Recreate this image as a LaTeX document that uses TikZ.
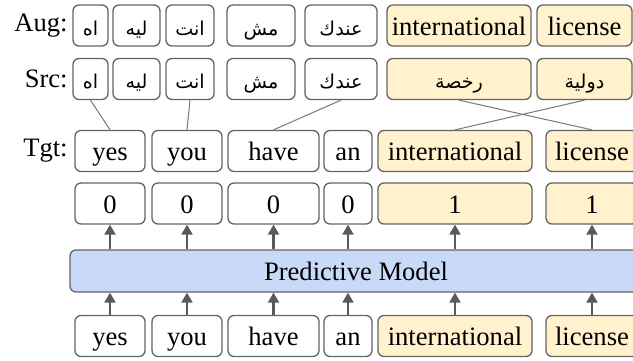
\documentclass[tikz,border=0pt]{standalone}
\usepackage{fontspec}
\setmainfont{Liberation Serif}
\newfontfamily\arabicfont[Script=Arabic,Scale=0.72]{DejaVu Sans}
\TeXXeTstate=1
\usetikzlibrary{arrows.meta}
\definecolor{boxline}{RGB}{100,100,100}
\definecolor{linkgray}{RGB}{120,120,120}
\definecolor{arrowgray}{RGB}{90,90,90}
\definecolor{hilite}{RGB}{255,242,204}
\definecolor{modelblue}{RGB}{201,218,248}
% arabic words run right to left
\newcommand{\arw}[1]{{\arabicfont\beginR #1\endR}}

\begin{document}
\begin{tikzpicture}[x=0.5pt,y=-0.5pt,inner sep=0pt,font=\fontsize{13.3}{16}\selectfont]
\tikzstyle{word}=[rectangle, rounded corners=3pt, draw=boxline, line width=0.65pt, minimum height=20.5pt, text height=10pt, text depth=0.5pt, fill=white]
\tikzstyle{hword}=[word, fill=hilite]
\tikzstyle{link}=[draw=linkgray, line width=0.5pt]
\tikzstyle{feed}=[-{Triangle[width=5.5pt,length=5pt]}, draw=arrowgray, line width=1.1pt]
\path[use as bounding box, clip] (0,0) rectangle (633,360);
% row labels
\node[anchor=east] (augl) at (68,25.5) {Aug:};
\node[anchor=east] (srcl) at (68,79) {Src:};
\node[anchor=east] (tgtl) at (68,151) {Tgt:};
% augmented source
\node[word,minimum width=17.5pt] (aug1) at (90.5,25.5) {\arw{اه}};
\node[word,minimum width=23.5pt] (aug2) at (136.5,25.5) {\arw{ليه}};
\node[word,minimum width=24pt] (aug3) at (190,25.5) {\arw{انت}};
\node[word,minimum width=34pt] (aug4) at (261,25.5) {\arw{مش}};
\node[word,minimum width=36pt] (aug5) at (341,25.5) {\arw{عندك}};
\node[hword,minimum width=72pt] (aug6) at (459,25.5) {international};
\node[hword,minimum width=47.5pt] (aug7) at (584.5,25.5) {license};
% source
\node[word,minimum width=17.5pt] (src1) at (90.5,79) {\arw{اه}};
\node[word,minimum width=23.5pt] (src2) at (136.5,79) {\arw{ليه}};
\node[word,minimum width=24pt] (src3) at (190,79) {\arw{انت}};
\node[word,minimum width=34pt] (src4) at (261,79) {\arw{مش}};
\node[word,minimum width=36pt] (src5) at (341,79) {\arw{عندك}};
\node[hword,minimum width=72pt] (src6) at (459,79) {\arw{رخصة}};
\node[hword,minimum width=47.5pt] (src7) at (584.5,79) {\arw{دولية}};
% target
\node[word,minimum width=35pt] (tgt1) at (110,151) {yes};
\node[word,minimum width=35pt] (tgt2) at (187,151) {you};
\node[word,minimum width=45.5pt] (tgt3) at (273.5,151) {have};
\node[word,minimum width=24pt] (tgt4) at (348,151) {an};
\node[hword,minimum width=77pt] (tgt5) at (455,151) {international};
\node[hword,minimum width=46pt] (tgt6) at (592,151) {license};
% tags
\node[word,minimum width=35pt] (lab1) at (110,203.5) {0};
\node[word,minimum width=35pt] (lab2) at (187,203.5) {0};
\node[word,minimum width=45.5pt] (lab3) at (273.5,203.5) {0};
\node[word,minimum width=24pt] (lab4) at (348,203.5) {0};
\node[hword,minimum width=77pt] (lab5) at (455,203.5) {1};
\node[hword,minimum width=46pt] (lab6) at (592,203.5) {1};
% model
\node[word,fill=modelblue,minimum width=286pt,minimum height=21pt] (model) at (356,271) {Predictive Model};
% input
\node[word,minimum width=35pt] (inp1) at (110,336) {yes};
\node[word,minimum width=35pt] (inp2) at (187,336) {you};
\node[word,minimum width=45.5pt] (inp3) at (273.5,336) {have};
\node[word,minimum width=24pt] (inp4) at (348,336) {an};
\node[hword,minimum width=77pt] (inp5) at (455,336) {international};
\node[hword,minimum width=46pt] (inp6) at (592,336) {license};
% alignment
\draw[link] (src1.south) -- (tgt1.north);
\draw[link] (src3.south) -- (tgt2.north);
\draw[link] (src5.south) -- (tgt3.north);
\draw[link] (src6.south) -- (tgt6.north);
\draw[link] (src7.south) -- (tgt5.north);
% model in and out
\draw[feed] (lab1.south |- model.north) -- (lab1.south);
\draw[feed] (lab2.south |- model.north) -- (lab2.south);
\draw[feed] (lab3.south |- model.north) -- (lab3.south);
\draw[feed] (lab4.south |- model.north) -- (lab4.south);
\draw[feed] (lab5.south |- model.north) -- (lab5.south);
\draw[feed] (lab6.south |- model.north) -- (lab6.south);
\draw[feed] (inp1.north) -- (inp1.north |- model.south);
\draw[feed] (inp2.north) -- (inp2.north |- model.south);
\draw[feed] (inp3.north) -- (inp3.north |- model.south);
\draw[feed] (inp4.north) -- (inp4.north |- model.south);
\draw[feed] (inp5.north) -- (inp5.north |- model.south);
\draw[feed] (inp6.north) -- (inp6.north |- model.south);
\end{tikzpicture}
\end{document}
